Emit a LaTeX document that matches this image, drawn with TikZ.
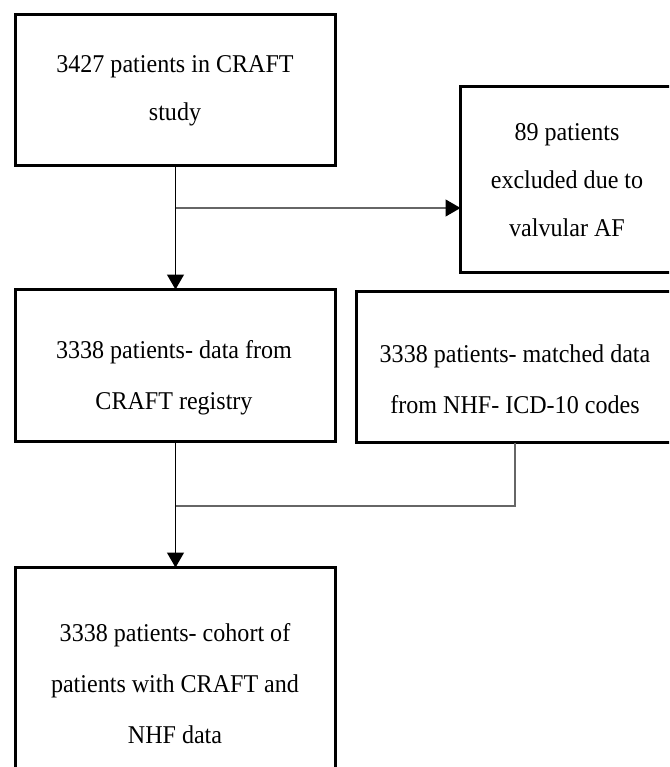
\documentclass[tikz,border=0pt]{standalone}
\usepackage{fontspec}
\setmainfont{Liberation Serif}[FakeStretch=0.94]
\usetikzlibrary{arrows.meta}
\begin{document}
\begin{tikzpicture}[x=1pt,y=-1pt,
  box/.style={draw=black, line width=3pt, rectangle, inner sep=0pt, outer sep=0pt},
  txt/.style={align=center, inner sep=0pt, font=\fontsize{25.6}{48}\selectfont},
  txtw/.style={align=center, inner sep=0pt, font=\fontsize{25.6}{51}\selectfont},
  conn/.style={draw=black, line width=1.3pt},
  gconn/.style={draw=black!60, line width=1.3pt},
  tip/.style={-{Triangle[length=15pt,width=17pt,color=black]}}
]
\fill[white] (0,0) rectangle (669,767);
\useasboundingbox (0,0) rectangle (669,767);
\clip (0,0) rectangle (669,767);

% boxes
\node[box, minimum width=320pt, minimum height=151pt] (b1) at (175.5,90) {};
\node[box, minimum width=213pt, minimum height=186pt] (b2) at (567,179.5) {};
\node[box, minimum width=320pt, minimum height=152pt] (b3) at (175.5,365.5) {};
\node[box, minimum width=317pt, minimum height=151pt] (b4) at (515,367) {};
\node[box, minimum width=320pt, minimum height=223pt] (b5) at (175.5,679) {};

% texts
\node[txt] (t1) at (175,91) {3427 patients in CRAFT\\study};
\node[txt] (t2) at (567,180) {89 patients\\excluded due to\\valvular AF};
\node[txtw] (t3) at (174,378) {3338 patients- data from\\CRAFT registry};
\node[txtw] (t4) at (515,379) {3338 patients- matched data\\from NHF-\ ICD-10 codes};
\node[txtw] (t5) at (175,683.5) {3338 patients- cohort of\\patients with CRAFT and\\NHF\ data};

% junctions
\coordinate (j1) at (175.5,208);
\coordinate (j2) at (175.5,506);

% connectors
\draw[conn, tip] (b1.south) -- (b3.north);
\draw[gconn, tip] (j1) -- (j1 -| b2.west);
\draw[conn, tip] (b3.south) -- (b5.north);
\draw[gconn] (b4.south) |- (j2);
\end{tikzpicture}
\end{document}
